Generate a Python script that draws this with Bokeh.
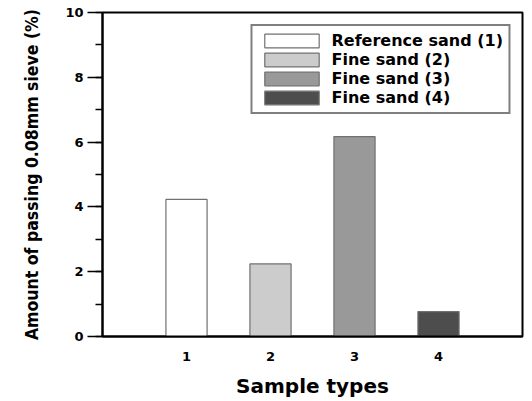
from bokeh.plotting import figure
from bokeh.models import ColumnDataSource, FixedTicker, SingleIntervalTicker, Legend, LegendItem, Range1d
from bokeh.embed import file_html
from bokeh.resources import INLINE

samples = [1, 2, 3, 4]
values = [4.23, 2.24, 6.17, 0.77]
names = ["Reference sand (1)", "Fine sand (2)", "Fine sand (3)", "Fine sand (4)"]
colors = ["#ffffff", "#cccccc", "#999999", "#4d4d4d"]

p = figure(width=532, height=400, output_backend="svg", toolbar_location=None,
           x_range=Range1d(0, 5), y_range=Range1d(0, 10),
           min_border_left=102, min_border_right=10, min_border_top=12, min_border_bottom=0)
p.grid.visible = False
p.outline_line_color = "black"
p.outline_line_width = 2
p.outline_line_alpha = 1.0

items = []
for s, v, n, c in zip(samples, values, names, colors):
    src = ColumnDataSource(dict(x=[s], top=[v]))
    r = p.vbar(x="x", top="top", bottom=0, width=0.49, source=src,
               fill_color=c, line_color="#707070", line_width=1.2)
    items.append(LegendItem(label=n, renderers=[r]))

legend = Legend(items=items, location="top_right")
legend.label_text_font = "DejaVu Sans"
legend.label_text_font_style = "bold"
legend.label_text_font_size = "16px"
legend.label_text_color = "black"
legend.glyph_width = 68
legend.glyph_height = 17
legend.label_height = 17
legend.spacing = 0
legend.padding = 5
legend.margin = 12
legend.label_standoff = 6
legend.border_line_color = "black"
legend.border_line_width = 2
legend.background_fill_alpha = 1.0
p.add_layout(legend, "center")

p.xaxis.ticker = FixedTicker(ticks=samples)
p.xaxis.major_tick_line_color = None
p.xaxis.minor_tick_line_color = None
p.xaxis.axis_line_width = 2
p.xaxis.major_label_text_font = "DejaVu Sans"
p.xaxis.major_label_text_font_style = "bold"
p.xaxis.major_label_text_font_size = "13px"
p.xaxis.major_label_text_color = "black"
p.xaxis.major_label_standoff = 9
p.xaxis.axis_label = "Sample types"
p.xaxis.axis_label_text_font = "DejaVu Sans"
p.xaxis.axis_label_text_font_style = "bold"
p.xaxis.axis_label_text_font_size = "20px"
p.xaxis.axis_label_standoff = 10
p.xaxis.axis_label_text_color = "black"

p.yaxis.ticker = SingleIntervalTicker(interval=2, num_minor_ticks=2)
p.yaxis.axis_line_width = 2
p.yaxis.major_tick_line_width = 1.5
p.yaxis.minor_tick_line_width = 1.5
p.yaxis.major_tick_out = 15
p.yaxis.major_tick_in = 0
p.yaxis.minor_tick_out = 7
p.yaxis.minor_tick_in = 0
p.yaxis.major_label_text_font = "DejaVu Sans"
p.yaxis.major_label_text_font_style = "bold"
p.yaxis.major_label_text_font_size = "13px"
p.yaxis.major_label_text_color = "black"
p.yaxis.major_label_standoff = 4
p.yaxis.axis_label = "Amount of passing 0.08mm sieve (%)"
p.yaxis.axis_label_text_font = "DejaVu Sans Condensed"
p.yaxis.axis_label_text_font_style = "bold"
p.yaxis.axis_label_text_font_size = "17.5px"
p.yaxis.axis_label_standoff = 20
p.yaxis.axis_label_text_color = "black"

open("out.html", "w").write(file_html(p, INLINE))
